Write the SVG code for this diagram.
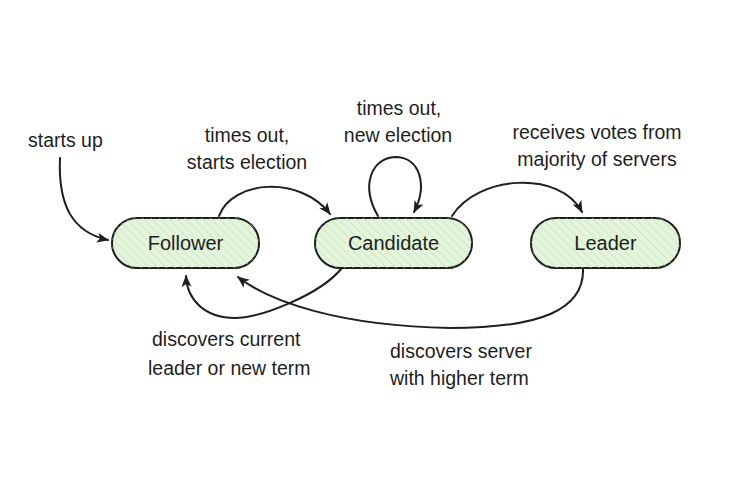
<svg xmlns="http://www.w3.org/2000/svg" width="750" height="500" viewBox="0 0 750 500">
<style>
.node rect{fill:#e4f4dd;stroke:#1e1e1e;stroke-width:2}
.lbl{font-family:"Liberation Sans",Arial,sans-serif;font-size:19.5px;fill:#1e1e1e}
.ntx{font-family:"Liberation Sans",Arial,sans-serif;font-size:20px;fill:#1e1e1e;text-anchor:middle}
.edge{fill:none;stroke:#1e1e1e;stroke-width:2;stroke-linecap:round;marker-end:url(#arr)}
</style>
<defs>
<pattern id="hatch" width="6" height="6" patternUnits="userSpaceOnUse" patternTransform="rotate(-45)">
<line x1="0" y1="0" x2="0" y2="6" stroke="#bfe3b0" stroke-width="1.2"/>
</pattern>
<marker id="arr" viewBox="0 0 12 12" refX="11" refY="6" markerWidth="12" markerHeight="12" markerUnits="userSpaceOnUse" orient="auto">
<path d="M0,1 L12,6 L0,11 L3,6 Z" fill="#1e1e1e"/>
</marker>
</defs>
<rect width="750" height="500" fill="#ffffff"/>
<g id="edges">
<path class="edge" d="M60,158 C58,205 72,232 108,240"/>
<path class="edge" d="M219,216 C232,180 300,175 330,214"/>
<path class="edge" d="M378,216 C360,185 372,158 395,157 C420,157 428,185 414,212"/>
<path class="edge" d="M452,216 C478,175 560,170 582,212"/>
<path class="edge" d="M342,268 C320,295 260,318 235,318 C205,318 187,300 186,276"/>
<path class="edge" d="M583,268 C585,310 540,328 450,328 C340,326 270,302 238,277"/>
</g>
<g id="follower" class="node">
<rect x="112" y="218" width="147" height="50" rx="25" ry="25"/>
<rect x="112" y="218" width="147" height="50" rx="25" ry="25" style="fill:url(#hatch);stroke:none"/>
<text class="ntx" x="185.5" y="250">Follower</text>
</g>
<g id="candidate" class="node">
<rect x="315" y="218" width="157" height="50" rx="25" ry="25"/>
<rect x="315" y="218" width="157" height="50" rx="25" ry="25" style="fill:url(#hatch);stroke:none"/>
<text class="ntx" x="393.5" y="250">Candidate</text>
</g>
<g id="leader" class="node">
<rect x="531" y="218" width="149" height="50" rx="25" ry="25"/>
<rect x="531" y="218" width="149" height="50" rx="25" ry="25" style="fill:url(#hatch);stroke:none"/>
<text class="ntx" x="605.5" y="250">Leader</text>
</g>
<g id="labels">
<text class="lbl" x="28" y="147">starts up</text>
<text class="lbl" x="247" y="142" text-anchor="middle">times out,</text>
<text class="lbl" x="247" y="169" text-anchor="middle">starts election</text>
<text class="lbl" x="399" y="115" text-anchor="middle">times out,</text>
<text class="lbl" x="398" y="142" text-anchor="middle">new election</text>
<text class="lbl" x="597" y="139" text-anchor="middle">receives votes from</text>
<text class="lbl" x="597" y="166" text-anchor="middle">majority of servers</text>
<text class="lbl" x="152" y="346">discovers current</text>
<text class="lbl" x="148" y="375">leader or new term</text>
<text class="lbl" x="390" y="358">discovers server</text>
<text class="lbl" x="390" y="385">with higher term</text>
</g>
</svg>
